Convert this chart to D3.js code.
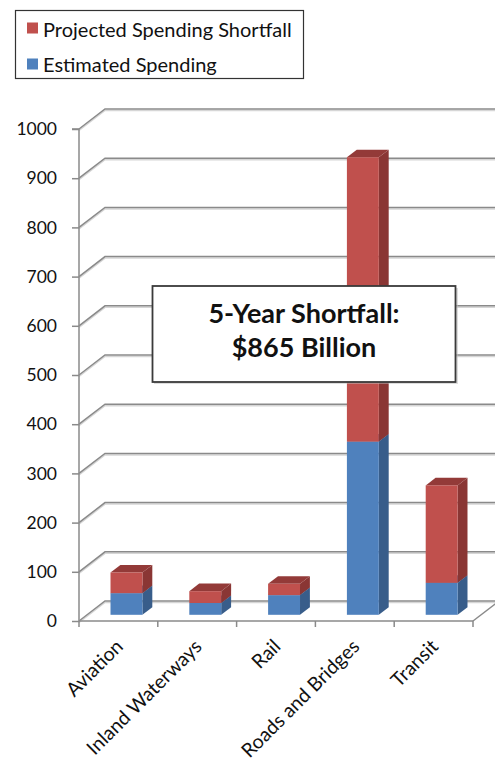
<!DOCTYPE html>
<html>
<head>
<meta charset="utf-8">
<script src="https://cdn.jsdelivr.net/npm/d3@7"></script>
<style>
  html, body { margin: 0; padding: 0; background: #fff; }
  svg { display: block; }
  text { font-family: Lato, "Open Sans", sans-serif; fill: #111; }
</style>
</head>
<body>
<svg id="chart" width="495" height="761"></svg>
<script>
// Transportation infrastructure spending, billions of dollars (5-year)
const categories = ["Aviation", "Inland Waterways", "Rail", "Roads and Bridges", "Transit"];
const estimatedSpending = [44, 24, 40, 352, 65];
const spendingShortfall = [42, 24, 23, 578, 198];
const yTicks = [0, 100, 200, 300, 400, 500, 600, 700, 800, 900, 1000];
const seriesNames = ["Projected Spending Shortfall", "Estimated Spending"];
const annotationLines = ["5-Year Shortfall:", "$865 Billion"];

const svg = d3.select("#chart");

// Oblique 3D projection: the back wall sits DX right and DY up from the front plane
const DX = 26, DY = -20;
const y = d3.scaleLinear().domain([0, 1000]).range([621, 129]);
const x = d3.scaleBand().domain(categories).range([79, 473]);
const barW = x.bandwidth() * 0.405;
const d0 = 0.31, d1 = 0.69; // depth span of each bar

const colors = {
  red:  { front: "#C0504D", side: "#8A3634", top: "#933A38" },
  blue: { front: "#4F81BD", side: "#385D8A", top: "#3F6797" }
};

const grid = svg.append("g");
// gridlines across the back wall and the left side wall
yTicks.forEach(v => {
  const yf = y(v), yb = y(v) + DY;
  const xl = x.range()[0], xr = x.range()[1];
  // soft shadow under each line
  grid.append("path")
    .attr("d", `M${xl},${yf + 1.5}L${xl + DX},${yb + 1.5}L${xr + DX},${yb + 1.5}`)
    .attr("fill", "none").attr("stroke", "#d6d6d6").attr("stroke-width", 1.5);
  grid.append("path")
    .attr("d", `M${xl},${yf}L${xl + DX},${yb}L${xr + DX},${yb}`)
    .attr("fill", "none").attr("stroke", "#8a8a8a").attr("stroke-width", 1.5);
});
// right edge of the floor
grid.append("line")
  .attr("x1", x.range()[1]).attr("y1", y(0))
  .attr("x2", x.range()[1] + DX).attr("y2", y(0) + DY)
  .attr("stroke", "#8a8a8a").attr("stroke-width", 1.5);

// value axis
const yAxis = svg.append("g").attr("transform", `translate(${x.range()[0]},0)`)
  .call(d3.axisLeft(y).tickValues(yTicks).tickSize(7).tickPadding(15).tickFormat(d3.format("d")));
yAxis.select(".domain").attr("stroke", "#8a8a8a").attr("stroke-width", 1.5).attr("d", `M-7,${y(1000)}H0V${y(0)}`);
yAxis.selectAll(".tick line").attr("stroke", "#8a8a8a").attr("stroke-width", 1.5);
yAxis.selectAll(".tick text").style("font-size", "17.5px").style("font-family", "Lato, sans-serif").attr("fill", "#111");

// category axis along the front of the floor
const xAxis = svg.append("g").attr("transform", `translate(0,${y(0)})`);
xAxis.append("line").attr("x1", x.range()[0]).attr("x2", x.range()[1])
  .attr("stroke", "#8a8a8a").attr("stroke-width", 1.5);
const bounds = categories.map(c => x(c)).concat([x.range()[1]]);
xAxis.selectAll("line.tk").data(bounds).join("line").attr("class", "tk")
  .attr("x1", d => d).attr("x2", d => d).attr("y1", 0).attr("y2", 6)
  .attr("stroke", "#8a8a8a").attr("stroke-width", 1.5);
xAxis.selectAll("text").data(categories).join("text")
  .attr("transform", d => `translate(${x(d) + x.bandwidth() / 2 + 1},${22}) rotate(-45)`)
  .attr("text-anchor", "end")
  .attr("dy", "0.35em")
  .style("font-size", "19.5px")
  .text(d => d);

// stacked 3D bars
function drawBlock(g, cx, v0, v1, col) {
  const xl = cx - barW / 2 + d0 * DX, xr = xl + barW;
  const yTop = y(v1) + d0 * DY, yBot = y(v0) + d0 * DY;
  const ddx = (d1 - d0) * DX, ddy = (d1 - d0) * DY;
  g.append("path") // side face
    .attr("d", `M${xr},${yTop}L${xr + ddx},${yTop + ddy}L${xr + ddx},${yBot + ddy}L${xr},${yBot}Z`)
    .attr("fill", col.side);
  g.append("path") // top face
    .attr("d", `M${xl},${yTop}L${xl + ddx},${yTop + ddy}L${xr + ddx},${yTop + ddy}L${xr},${yTop}Z`)
    .attr("fill", col.top);
  g.append("rect") // front face
    .attr("x", xl).attr("y", yTop).attr("width", barW).attr("height", yBot - yTop)
    .attr("fill", col.front);
}
const bars = svg.append("g");
categories.forEach((c, i) => {
  const cx = x(c) + x.bandwidth() / 2;
  const g = bars.append("g");
  drawBlock(g, cx, 0, estimatedSpending[i], colors.blue);
  drawBlock(g, cx, estimatedSpending[i], estimatedSpending[i] + spendingShortfall[i], colors.red);
});

// callout with the total shortfall
const ann = svg.append("g");
ann.append("rect").attr("x", 154).attr("y", 288).attr("width", 304).attr("height", 96)
  .attr("fill", "#bbb").attr("opacity", 0.5);
ann.append("rect").attr("x", 152.5).attr("y", 286).attr("width", 303).attr("height", 96)
  .attr("fill", "#fff").attr("stroke", "#3a3a3a").attr("stroke-width", 1.8);
ann.selectAll("text").data(annotationLines).join("text")
  .attr("x", 304).attr("y", (d, i) => 323 + i * 34)
  .attr("text-anchor", "middle")
  .style("font-size", "27px").style("font-weight", "bold")
  .text(d => d);

// legend
const leg = svg.append("g");
leg.append("rect").attr("x", 15.5).attr("y", 10.5).attr("width", 288).attr("height", 68)
  .attr("fill", "#fff").attr("stroke", "#333").attr("stroke-width", 1.2);
[colors.red, colors.blue].forEach((col, i) => {
  leg.append("rect").attr("x", 27).attr("y", 22.5 + i * 36).attr("width", 11).attr("height", 11)
    .attr("fill", col.front);
  leg.append("text").attr("x", 43).attr("y", 36.5 + i * 35.5)
    .style("font-size", "20px").text(seriesNames[i]);
});
</script>
</body>
</html>
